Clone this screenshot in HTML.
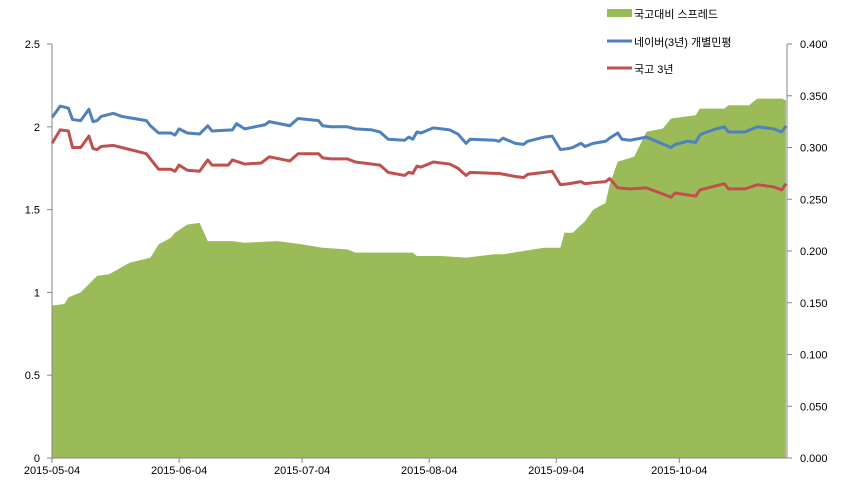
<!DOCTYPE html>
<html><head><meta charset="utf-8"><style>
body{margin:0;background:#fff;}
svg text{font-family:"Liberation Sans","Noto Sans CJK KR",sans-serif;font-size:11px;fill:#000;}
</style></head><body>
<svg id="chart" width="842" height="493"></svg>
<script>
const spreadDays=[0,3,4,7,11,14,19,24,26,29,30,33,36,38,44,47,55,61,66,72,74,88,89,95,101,108,110,115,120,124,125,127,130,132,135,136,138,142,145,149,151,157,158,164,165,170,172,178,179];
const spreadVals=[0.92,0.93,0.97,1.00,1.10,1.11,1.18,1.21,1.29,1.33,1.36,1.41,1.42,1.31,1.31,1.30,1.31,1.29,1.27,1.26,1.24,1.24,1.22,1.22,1.21,1.23,1.23,1.25,1.27,1.27,1.36,1.36,1.43,1.50,1.54,1.65,1.79,1.82,1.97,1.99,2.05,2.07,2.11,2.11,2.13,2.13,2.17,2.17,2.16];
const naverDays=[0,2,4,5,7,9,10,11,12,15,17,20,23,24,26,29,30,31,33,36,38,39,44,45,47,52,53,58,60,65,66,68,72,74,78,80,82,86,87,88,89,90,93,97,99,101,102,108,109,110,113,115,116,118,120,122,124,126,127,129,130,132,135,136,138,139,141,145,151,152,155,157,158,159,162,163,164,165,169,172,176,178,179];
const naverVals=[.329,.340,.338,.327,.326,.337,.325,.326,.330,.333,.330,.328,.326,.321,.314,.314,.312,.318,.314,.313,.321,.316,.317,.323,.318,.322,.325,.321,.328,.326,.321,.320,.320,.318,.317,.315,.308,.307,.310,.308,.315,.314,.319,.317,.313,.304,.308,.307,.306,.309,.304,.303,.306,.308,.310,.311,.298,.299,.300,.304,.301,.304,.306,.309,.314,.308,.307,.310,.300,.303,.306,.305,.312,.314,.318,.319,.320,.315,.315,.320,.318,.315,.321];
const ktbDays=[0,2,4,5,7,9,10,11,12,15,17,20,23,24,26,29,30,31,33,36,38,39,43,44,47,51,53,58,60,65,66,68,72,74,78,80,82,86,87,88,89,90,93,97,99,101,102,108,109,113,115,116,118,120,122,124,126,129,130,132,135,136,138,141,145,151,152,157,158,162,163,164,165,169,172,176,178,179];
const ktbVals=[.304,.317,.316,.300,.300,.311,.299,.298,.301,.302,.300,.297,.294,.289,.279,.279,.277,.283,.278,.277,.288,.283,.283,.288,.284,.285,.291,.287,.294,.294,.290,.289,.289,.286,.284,.283,.276,.273,.276,.275,.282,.281,.286,.284,.280,.273,.276,.275,.275,.272,.271,.274,.275,.276,.277,.264,.265,.267,.265,.266,.267,.270,.261,.260,.261,.252,.256,.253,.259,.263,.264,.265,.260,.260,.264,.262,.259,.265];
const leftTicks=["0","0.5","1","1.5","2","2.5"];
const leftTickVals=[0,0.5,1,1.5,2,2.5];
const rightTicks=["0.000","0.050","0.100","0.150","0.200","0.250","0.300","0.350","0.400"];
const rightTickVals=[0,0.05,0.1,0.15,0.2,0.25,0.3,0.35,0.4];
const dateLabels=["2015-05-04","2015-06-04","2015-07-04","2015-08-04","2015-09-04","2015-10-04"];
const dateDays=[0,31,61,92,123,153];

const X0=52,X1=787,Y0=458,Y1=44,DPX=4.1;
const xs=d=>X0+d*DPX;
const yl=v=>Y0-(v/2.5)*(Y0-Y1);
const yr=v=>Y0-(v/0.4)*(Y0-Y1);
const NS="http://www.w3.org/2000/svg";
const svg=document.getElementById('chart');
function mk(tag,attrs){const e=document.createElementNS(NS,tag);for(const k in attrs)e.setAttribute(k,attrs[k]);svg.appendChild(e);return e;}

// area
let d=`M${xs(spreadDays[0])},${Y0}`;
spreadDays.forEach((dd,i)=>{d+=` L${xs(dd)},${yl(spreadVals[i])}`;});
d+=` L${xs(spreadDays[spreadDays.length-1])},${Y0} Z`;
const area=mk('path',{d:d,fill:'#9BBB59'});



function line(days,vals,color,name){
  const p=mk('polyline',{points:days.map((dd,i)=>xs(dd)+','+yr(vals[i])).join(' '),fill:'none',stroke:color,'stroke-width':3,'stroke-linejoin':'round'});
  
  
}
line(naverDays,naverVals,'#4F81BD','naver-3y-line');
line(ktbDays,ktbVals,'#C0504D','ktb-3y-line');

// axes
const la=mk('line',{x1:X0,y1:Y1,x2:X0,y2:Y0,stroke:'#868686'});


const ra=mk('line',{x1:X1,y1:Y1,x2:X1,y2:Y0,stroke:'#868686'});


const xa=mk('line',{x1:X0,y1:Y0,x2:X1,y2:Y0,stroke:'#868686'});



leftTickVals.forEach((v,i)=>{
  mk('line',{x1:X0-5,y1:yl(v),x2:X0,y2:yl(v),stroke:'#868686'});
  const t=mk('text',{x:40,y:yl(v)+4,'text-anchor':'end'});t.textContent=leftTicks[i];
  
  
});
rightTickVals.forEach((v,i)=>{
  mk('line',{x1:X1,y1:yr(v),x2:X1+5,y2:yr(v),stroke:'#868686'});
  const t=mk('text',{x:800,y:yr(v)+4});t.textContent=rightTicks[i];
  
  
});
dateDays.forEach((dd,i)=>{
  mk('line',{x1:xs(dd),y1:Y0,x2:xs(dd),y2:Y0+5,stroke:'#868686'});
  const t=mk('text',{x:xs(dd),y:474,'text-anchor':'middle'});t.textContent=dateLabels[i];
  
  
});

// legend
const l1=mk('rect',{x:607,y:9,width:25,height:8,fill:'#9BBB59'});


const t1=mk('text',{x:634,y:18,'font-size':'12'});t1.textContent='국고대비 스프레드';


const l2=mk('line',{x1:607,y1:41,x2:632,y2:41,stroke:'#4F81BD','stroke-width':3});


const t2=mk('text',{x:634,y:46,'font-size':'12'});t2.textContent='네이버(3년) 개별민평';


const l3=mk('line',{x1:607,y1:68,x2:632,y2:68,stroke:'#C0504D','stroke-width':3});


const t3=mk('text',{x:634,y:73,'font-size':'12'});t3.textContent='국고 3년';


</script>
</body></html>
